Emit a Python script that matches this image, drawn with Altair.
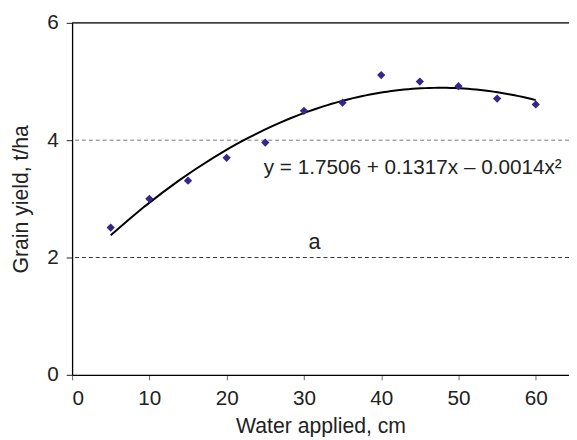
import altair as alt
import pandas as pd

water = [5, 10, 15, 20, 25, 30, 35, 40, 45, 50, 55, 60]
yield_t = [2.51, 3.0, 3.31, 3.70, 3.96, 4.50, 4.64, 5.11, 5.0, 4.92, 4.71, 4.61]

grid_levels = [2, 4]
grid_colors = ["#333333", "#777777"]
top_level = [6]

equation = "y = 1.7506 + 0.1317x \u2013 0.0014x\u00b2"
label_a = "a"

FONT = "Liberation Sans"
W, H = 504, 357

df = pd.DataFrame({"x": water, "y": yield_t})
grid_df = pd.DataFrame({"y": grid_levels, "c": grid_colors})
top_df = pd.DataFrame({"y": top_level})
txt_df = pd.DataFrame({"x": [24.8, 30.6], "y": [3.53, 2.27], "t": [equation, label_a],
                       "s": [21, 22]})

xscale = alt.Scale(domain=[0, 64.3], nice=False, zero=False)
yscale = alt.Scale(domain=[0, 6], nice=False)

xaxis = alt.Axis(values=[0, 10, 20, 30, 40, 50, 60], title="Water applied, cm", grid=False, format="d",
                 domainColor="black", domainWidth=1.3, tickColor="#666666", tickSize=5,
                 labelFontSize=21, labelColor="#222222", labelPadding=8,
                 titleFontSize=21.5, titleFontWeight="normal", titleColor="#222222", titlePadding=7,
                 labelFont=FONT, titleFont=FONT)
yaxis = alt.Axis(values=[0, 2, 4, 6], title="Grain yield, t/ha", grid=False, format="d",
                 domainColor="black", domainWidth=1.3, tickColor="#222222", tickSize=6,
                 labelFontSize=21, labelColor="#222222", labelPadding=8,
                 titleFontSize=21.5, titleFontWeight="normal", titleColor="#222222", titlePadding=15,
                 labelFont=FONT, titleFont=FONT)

base_x = alt.X("x:Q", scale=xscale, axis=xaxis)
base_y = alt.Y("y:Q", scale=yscale, axis=yaxis)

grid = alt.Chart(grid_df).mark_rule(strokeDash=[4, 3], strokeWidth=1).encode(
    y=alt.Y("y:Q", scale=yscale),
    color=alt.Color("c:N", scale=None),
)
top = alt.Chart(top_df).mark_rule(color="black", strokeWidth=1.3).encode(
    y=alt.Y("y:Q", scale=yscale),
)

points = alt.Chart(df).mark_point(shape="diamond", filled=True, color="#33288a", size=70, opacity=1).encode(
    x=base_x, y=base_y
)

curve = alt.Chart(df).transform_regression(
    "x", "y", method="poly", order=2, extent=[5, 60]
).mark_line(color="black", strokeWidth=2).encode(
    x=alt.X("x:Q", scale=xscale), y=alt.Y("y:Q", scale=yscale)
)

texts = alt.Chart(txt_df).mark_text(align="left", baseline="middle", font=FONT, color="#222222").encode(
    x=alt.X("x:Q", scale=xscale), y=alt.Y("y:Q", scale=yscale), text="t:N",
    size=alt.Size("s:Q", scale=None, legend=None),
)

chart = alt.layer(grid, top, curve, points, texts).properties(
    width=W, height=H,
    autosize=alt.AutoSizeParams(type="none"),
    padding={"left": 65, "top": 12, "right": 0, "bottom": 60},
).configure_view(stroke=None).configure(font=FONT)

chart.save("out.html", embed_options={"renderer": "svg", "actions": False})
